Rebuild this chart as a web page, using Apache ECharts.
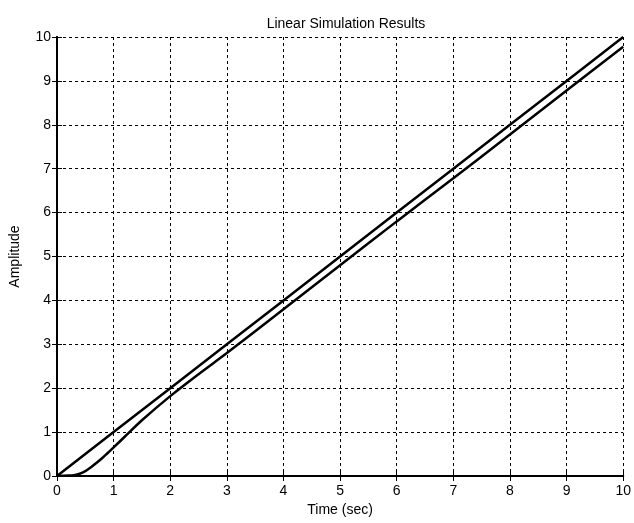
<!DOCTYPE html>
<html>
<head>
<meta charset="utf-8">
<script src="https://cdn.jsdelivr.net/npm/echarts@6/dist/echarts.min.js"></script>
<style>html,body{margin:0;padding:0;background:#fff}#c{width:634px;height:523px}</style>
</head>
<body>
<div id="c"></div>
<script>
// Data
const inputT = [0, 1, 2, 3, 4, 5, 6, 7, 8, 9, 10];
const inputY = [0, 1, 2, 3, 4, 5, 6, 7, 8, 9, 10];
const respT = [0, 0.2, 0.3, 0.4, 0.5, 0.6, 0.7, 0.8, 0.9, 1.0, 1.2, 1.5, 2.0, 2.5, 3, 4, 5, 6, 7, 8, 9, 10];
const respY = [0, 0.01, 0.02, 0.05, 0.11, 0.2, 0.3, 0.41, 0.53, 0.65, 0.9, 1.27, 1.82, 2.32, 2.8, 3.8, 4.8, 5.8, 6.78, 7.78, 8.78, 9.78];
const xTicks = [0, 1, 2, 3, 4, 5, 6, 7, 8, 9, 10];
const yTicks = [0, 1, 2, 3, 4, 5, 6, 7, 8, 9, 10];

const font = 'Liberation Sans, Arial, Helvetica, sans-serif';
const chart = echarts.init(document.getElementById('c'), null, {renderer: 'canvas'});
const axBase = {
  type: 'value', min: 0, max: 10, interval: 1,
  axisLine: {show: true, lineStyle: {color: '#000', width: 2}},
  axisTick: {show: true, inside: true, length: 5, lineStyle: {color: '#000', width: 1}},
};
chart.setOption({
  animation: false,
  backgroundColor: '#fff',
  title: {
    text: 'Linear Simulation Results', left: 341, top: 12, textAlign: 'center',
    textStyle: {fontFamily: font, fontSize: 14, fontWeight: 'normal', color: '#000'}
  },
  grid: {left: 57, right: 8, top: 37, bottom: 47, containLabel: false},
  xAxis: [
    Object.assign({}, axBase, {
      position: 'bottom',
      name: 'Time (sec)', nameLocation: 'middle', nameGap: 26,
      nameTextStyle: {fontFamily: font, fontSize: 14, color: '#000'},
      axisLabel: {color: '#000', fontFamily: font, fontSize: 14, margin: 8,
        formatter: v => xTicks.includes(v) ? String(v) : ''},
      splitLine: {show: true, lineStyle: {color: '#000', width: 1, type: [3, 3]}}
    }),
    Object.assign({}, axBase, {
      position: 'top', axisLabel: {show: false}, splitLine: {show: false}
    })
  ],
  yAxis: [
    Object.assign({}, axBase, {
      position: 'left',
      name: 'Amplitude', nameLocation: 'middle', nameGap: 35, nameRotate: 90,
      nameTextStyle: {fontFamily: font, fontSize: 14, color: '#000'},
      axisLabel: {color: '#000', fontFamily: font, fontSize: 14, margin: 6,
        formatter: v => yTicks.includes(v) ? String(v) : ''},
      splitLine: {show: true, lineStyle: {color: '#000', width: 1, type: [3, 3]}}
    }),
    Object.assign({}, axBase, {
      position: 'right', axisLabel: {show: false}, splitLine: {show: false}
    })
  ],
  series: [
    {type: 'line', xAxisIndex: 0, yAxisIndex: 0, data: inputT.map((t, i) => [t, inputY[i]]),
      showSymbol: false, lineStyle: {color: '#000', width: 2.5}, z: 3},
    {type: 'line', xAxisIndex: 0, yAxisIndex: 0, smooth: 0.3, data: respT.map((t, i) => [t, respY[i]]),
      showSymbol: false, lineStyle: {color: '#000', width: 2.5}, z: 3}
  ]
});
</script>
</body>
</html>
